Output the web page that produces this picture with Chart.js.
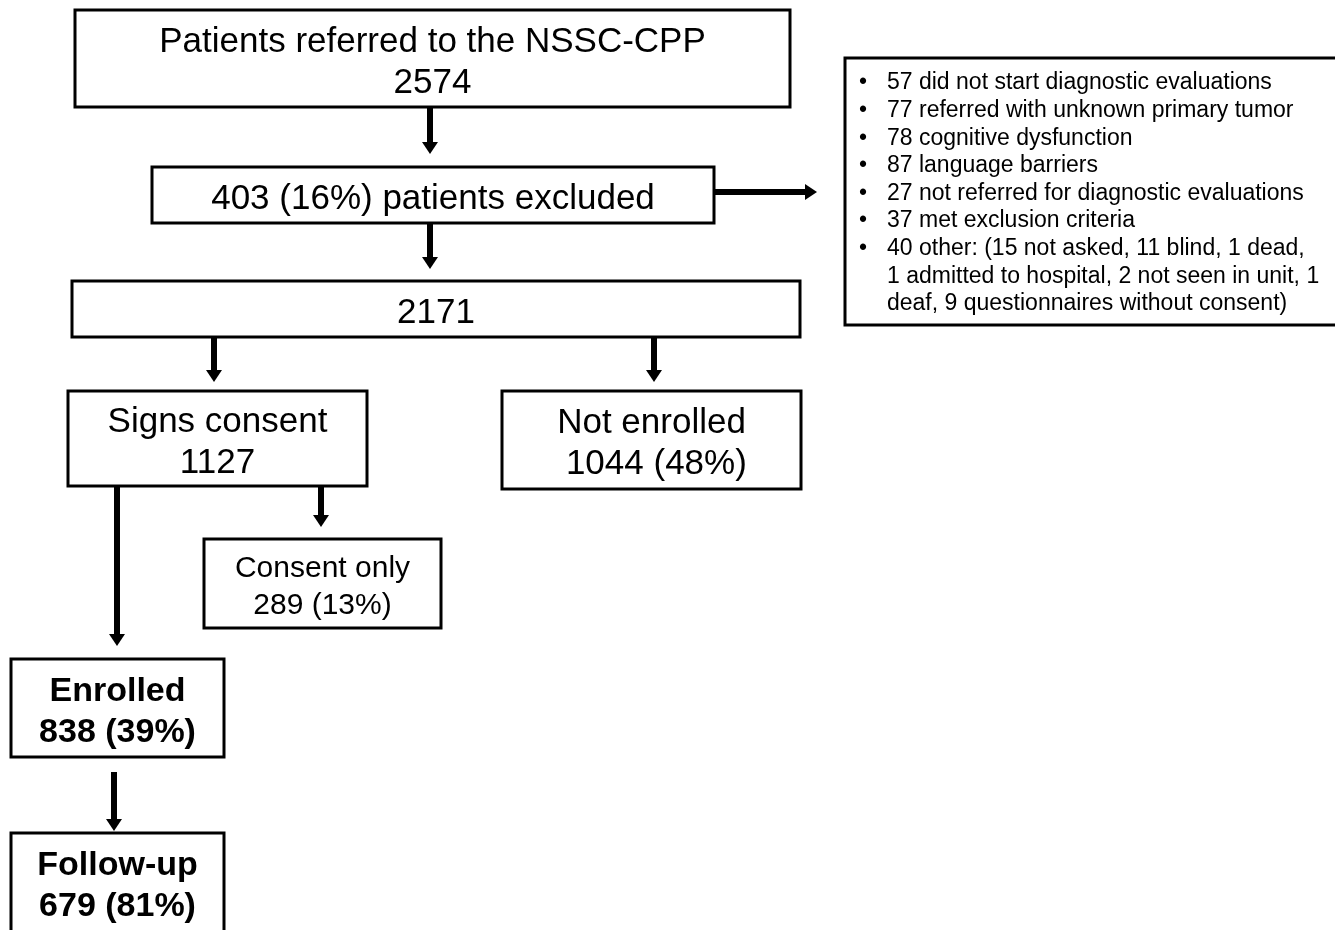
<!DOCTYPE html>
<html>
<head>
<meta charset="utf-8">
<script src="https://cdn.jsdelivr.net/npm/chart.js@4.4.1/dist/chart.umd.min.js"></script>
<style>
  body { margin: 0; background: #fff; }
  #wrap { width: 1335px; height: 930px; }
</style>
</head>
<body>
<div id="wrap"><canvas id="flowChart" width="1335" height="930"></canvas></div>
<script>
// flow values
const nodeTitles = ['Patients referred to the NSSC-CPP', '', '', 'Signs consent', 'Not enrolled', 'Consent only', 'Enrolled', 'Follow-up'];
const nodeCounts = [2574, 403, 2171, 1127, 1044, 289, 838, 679];
const nodePercents = [null, 16, null, null, 48, 13, 39, 81];
const exclusionReasons = [
    '57 did not start diagnostic evaluations',
    '77 referred with unknown primary tumor',
    '78 cognitive dysfunction',
    '87 language barriers',
    '27 not referred for diagnostic evaluations',
    '37 met exclusion criteria',
    '40 other: (15 not asked, 11 blind, 1 dead,',
    '1 admitted to hospital, 2 not seen in unit, 1',
    'deaf, 9 questionnaires without consent)'
];
const reasonBullets = [true, true, true, true, true, true, true, false, false];

// layout (axis units = page pixels)
const boxes = [
    [75, 10, 790, 107],
    [152, 167, 714, 223],
    [72, 281, 800, 337],
    [68, 391, 367, 486],
    [502, 391, 801, 489],
    [204, 539, 441, 628],
    [11, 659, 224, 757],
    [11, 833, 224, 936]
];
const textShift = [4, 4, 4, 4, 4, 4, 4, 2];
const boldNodes = [6, 7];
const nodeFont = [35, 35, 35, 35, 35, 30, 34, 34];
const arrows = [
    [430, 107, 430, 154],
    [430, 223, 430, 269],
    [714, 192, 817, 192],
    [214, 337, 214, 382],
    [654, 337, 654, 382],
    [117, 486, 117, 646],
    [321, 486, 321, 527],
    [114, 772, 114, 831]
];
const reasonBox = [845, 58, 1345, 325];

function nodeLines(i) {
    const pct = nodePercents[i] != null ? ' (' + nodePercents[i] + '%)' : '';
    if (i === 1) return [nodeCounts[i] + pct + ' patients excluded'];
    if (i === 4) return [nodeTitles[i], ' ' + nodeCounts[i] + pct];
    if (nodeTitles[i]) return [nodeTitles[i], nodeCounts[i] + pct];
    return [String(nodeCounts[i])];
}

const flowPlugin = {
    id: 'flow',
    afterDatasetsDraw(chart) {
        const ctx = chart.ctx;
        const xs = chart.scales.x, ys = chart.scales.y;
        const px = v => xs.getPixelForValue(v);
        const py = v => ys.getPixelForValue(v);
        ctx.save();
        ctx.strokeStyle = '#000';
        ctx.fillStyle = '#000';
        ctx.lineWidth = 3;
        ctx.textAlign = 'center';
        ctx.textBaseline = 'middle';
        boxes.forEach((b, i) => {
            const x0 = px(b[0]), y0 = py(b[1]), x1 = px(b[2]), y1 = py(b[3]);
            ctx.strokeRect(x0, y0, x1 - x0, y1 - y0);
            const lines = nodeLines(i);
            const fs = nodeFont[i];
            ctx.font = (boldNodes.includes(i) ? 'bold ' : '') + fs + 'px "Liberation Sans", Arial, sans-serif';
            const cx = (x0 + x1) / 2, cy = (y0 + y1) / 2 + textShift[i];
            const lh = i === 5 ? 37 : 41;
            lines.forEach((t, k) => {
                ctx.fillText(t, cx, cy + (k - (lines.length - 1) / 2) * lh);
            });
        });
        // arrows
        arrows.forEach(a => {
            const x0 = px(a[0]), y0 = py(a[1]), x1 = px(a[2]), y1 = py(a[3]);
            const ang = Math.atan2(y1 - y0, x1 - x0);
            const head = 12, half = 8;
            const bx = x1 - head * Math.cos(ang), by = y1 - head * Math.sin(ang);
            ctx.lineWidth = 6;
            ctx.beginPath();
            ctx.moveTo(x0, y0);
            ctx.lineTo(bx, by);
            ctx.stroke();
            ctx.beginPath();
            ctx.moveTo(x1, y1);
            ctx.lineTo(bx - half * Math.sin(ang), by + half * Math.cos(ang));
            ctx.lineTo(bx + half * Math.sin(ang), by - half * Math.cos(ang));
            ctx.closePath();
            ctx.fill();
        });
        // exclusion reasons box
        ctx.lineWidth = 3;
        const rx0 = px(reasonBox[0]), ry0 = py(reasonBox[1]);
        ctx.strokeRect(rx0, ry0, px(reasonBox[2]) - rx0, py(reasonBox[3]) - ry0);
        ctx.font = '23px "Liberation Sans", Arial, sans-serif';
        ctx.textAlign = 'left';
        exclusionReasons.forEach((t, k) => {
            const y = py(83 + k * 27.6);
            if (reasonBullets[k]) ctx.fillText('\u2022', px(859), y);
            ctx.fillText(t, px(887), y);
        });
        ctx.restore();
    }
};

const centers = boxes.map((b, i) => ({ x: (b[0] + b[2]) / 2, y: (b[1] + b[3]) / 2, n: nodeCounts[i] }));

new Chart(document.getElementById('flowChart').getContext('2d'), {
    type: 'scatter',
    data: {
        datasets: [{ data: centers, pointRadius: 0 }]
    },
    options: {
        responsive: false,
        animation: false,
        layout: { padding: 0 },
        plugins: { legend: { display: false }, tooltip: { enabled: false } },
        scales: {
            x: { type: 'linear', min: 0, max: 1335, display: false },
            y: { type: 'linear', min: 0, max: 930, reverse: true, display: false }
        }
    },
    plugins: [flowPlugin]
});
</script>
</body>
</html>
